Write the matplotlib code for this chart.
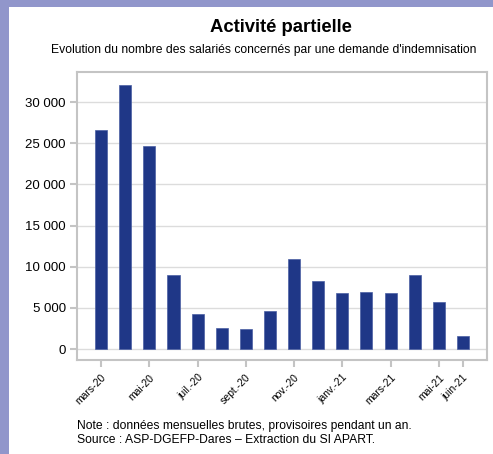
import numpy as np
import matplotlib.pyplot as plt

plt.rcParams['font.family'] = ['Liberation Sans', 'DejaVu Sans']

# données mensuelles, mars 2020 -> juin 2021
mois = ['mars-20', 'avr.-20', 'mai-20', 'juin-20', 'juil.-20', 'août-20',
        'sept.-20', 'oct.-20', 'nov.-20', 'déc.-20', 'janv.-21', 'févr.-21',
        'mars-21', 'avr.-21', 'mai-21', 'juin-21']
salaries = [26550, 32100, 24650, 8950, 4250, 2500, 2450, 4600,
            10900, 8250, 6800, 6900, 6750, 8950, 5700, 1600]
mois_affiches = ['mars-20', 'mai-20', 'juil.-20', 'sept.-20', 'nov.-20',
                 'janv.-21', 'mars-21', 'mai-21', 'juin-21']
yticks = [0, 5000, 10000, 15000, 20000, 25000, 30000]

fond = '#9196cb'
bleu = '#1f3787'
gris = '#c4c4c4'

fig = plt.figure(figsize=(4.93, 4.54), dpi=100)
fig.patch.set_facecolor(fond)
# panneau blanc
fig.patches.append(plt.Rectangle((9 / 493, 0), 1, 1 - 7 / 454, transform=fig.transFigure,
                                 facecolor='white', edgecolor='none', zorder=-5))

ax = fig.add_axes([77 / 493, 94 / 454, 410 / 493, 288 / 454])
ax.set_zorder(2)
x = np.arange(len(mois))
ax.bar(x, salaries, width=0.5, color=bleu, edgecolor='#4a5fa3', linewidth=0.5, zorder=3)

ax.set_xlim(-1, 16)
ax.set_ylim(-1330, 33650)
ax.set_yticks(yticks)
ax.set_yticklabels([f'{v:,}'.replace(',', ' ') for v in yticks], fontsize=9.5)
pos = [mois.index(m) for m in mois_affiches]
ax.set_xticks(pos)
ax.set_xticklabels(mois_affiches, rotation=45, ha='right', rotation_mode='anchor', fontsize=7.5)
ax.tick_params(axis='both', color=gris, width=1.5, length=5)
ax.tick_params(axis='y', pad=3)
ax.tick_params(axis='x', pad=4)
ax.grid(axis='y', color='#dcdcdc', linewidth=1, zorder=0)
for s in ax.spines.values():
    s.set_color(gris)
    s.set_linewidth(1.5)

fig.text(281 / 493, 1 - 27 / 454, 'Activité partielle', ha='center', va='center',
         fontsize=13.3, fontweight='bold')
fig.text(264 / 493, 1 - 50 / 454,
         "Evolution du nombre des salariés concernés par une demande d'indemnisation",
         ha='center', va='center', fontsize=8.7)
fig.text(77 / 493, 1 - 426 / 454, 'Note : données mensuelles brutes, provisoires pendant un an.',
         ha='left', va='center', fontsize=8.75)
fig.text(77 / 493, 1 - 440 / 454, 'Source : ASP-DGEFP-Dares – Extraction du SI APART.',
         ha='left', va='center', fontsize=8.75)

fig.savefig('out.png', dpi=100, facecolor=fig.get_facecolor())
